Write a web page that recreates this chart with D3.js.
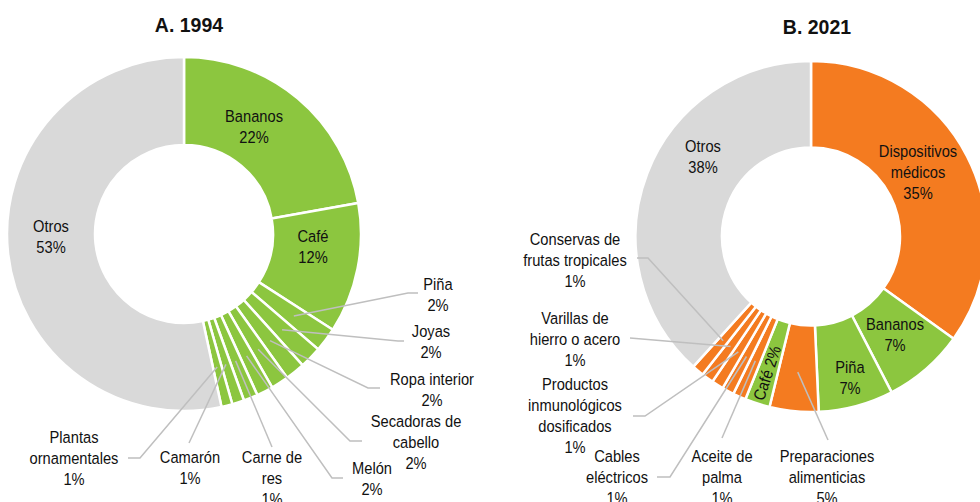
<!DOCTYPE html>
<html>
<head>
<meta charset="utf-8">
<script src="https://cdn.jsdelivr.net/npm/d3@7"></script>
<style>
  html, body { margin: 0; padding: 0; background: #fff; }
  svg { display: block; }
  .lbl { font-family: "Liberation Sans", Arial, sans-serif; font-size: 16.5px; fill: #111; }
  .ttl { font-family: "Liberation Sans", Arial, sans-serif; font-size: 19.5px; font-weight: bold; fill: #111; }
</style>
</head>
<body>
<svg id="chart" width="980" height="502"></svg>
<script>
// ---- Data ----
const categories1994 = ["Bananos", "Café", "Piña", "Joyas", "Ropa interior", "Secadoras de cabello", "Melón", "Carne de res", "Camarón", "Plantas ornamentales", "Otros"];
const values1994 = [22.2, 11.9, 2.2, 2.0, 1.8, 1.6, 1.5, 1.3, 1.1, 1.0, 53.4];
const labels1994 = ["22%", "12%", "2%", "2%", "2%", "2%", "2%", "1%", "1%", "1%", "53%"];
const groups1994 = ["agro", "agro", "agro", "agro", "agro", "agro", "agro", "agro", "agro", "agro", "otros"];

const categories2021 = ["Dispositivos médicos", "Bananos", "Piña", "Preparaciones alimenticias", "Café", "Aceite de palma", "Cables eléctricos", "Productos inmunológicos dosificados", "Varillas de hierro o acero", "Conservas de frutas tropicales", "Otros"];
const values2021 = [34.9, 7.5, 6.9, 4.5, 2.3, 1.2, 1.1, 1.1, 1.1, 1.1, 38.3];
const labels2021 = ["35%", "7%", "7%", "5%", "2%", "1%", "1%", "1%", "1%", "1%", "38%"];
const groups2021 = ["ind", "agro", "agro", "ind", "agro", "ind", "ind", "ind", "ind", "ind", "otros"];

const titles = ["A. 1994", "B. 2021"];

// ---- Styles / layout ----
const colors = { agro: "#8CC63F", ind: "#F47B20", otros: "#D9D9D9" };
const leaderColor = "#BFBFBF";
const LH = 21;
const SX = 0.89; // horizontal condensing of label text

const layout1994 = [
  { lines: ["Bananos"], x: 254, y: 122 },
  { lines: ["Café"], x: 313, y: 242 },
  { lines: ["Piña"], x: 438, y: 290, leader: [[408, 293], [418, 293]] },
  { lines: ["Joyas"], x: 431, y: 337, leader: [[398, 341], [404, 341]] },
  { lines: ["Ropa interior"], x: 432, y: 385, leader: [[368, 388], [380, 388]] },
  { lines: ["Secadoras de", "cabello"], x: 416, y: 427, leader: [[350, 441], [362, 441]] },
  { lines: ["Melón"], x: 372, y: 474, leader: [[332, 478], [343, 478]] },
  { lines: ["Carne de", "res"], x: 272, y: 463, leader: [[272, 447]] },
  { lines: ["Camarón"], x: 190, y: 463, leader: [[189, 443]] },
  { lines: ["Plantas", "ornamentales"], x: 74, y: 443, leader: [[140, 458], [128, 458]] },
  { lines: ["Otros"], x: 51, y: 232 }
];
const layout2021 = [
  { lines: ["Dispositivos", "médicos"], x: 918, y: 157 },
  { lines: ["Bananos"], x: 895, y: 330 },
  { lines: ["Piña"], x: 850, y: 373 },
  { lines: ["Preparaciones", "alimenticias"], x: 827, y: 462, leader: [[828, 440]] },
  { lines: ["Café"], x: 767, y: 373, rotate: -72, inline: true },
  { lines: ["Aceite de", "palma"], x: 722, y: 462, leader: [[722, 438]] },
  { lines: ["Cables", "eléctricos"], x: 617, y: 462, leader: [[670, 477], [657, 477]] },
  { lines: ["Productos", "inmunológicos", "dosificados"], x: 575, y: 390, leader: [[645, 416], [633, 416]] },
  { lines: ["Varillas de", "hierro o acero"], x: 575, y: 324, leader: [[630, 338]] },
  { lines: ["Conservas de", "frutas tropicales"], x: 575, y: 245, leader: [[648, 258], [637, 258]] },
  { lines: ["Otros"], x: 703, y: 152 }
];

const charts = [
  { cats: categories1994, vals: values1994, labs: labels1994, groups: groups1994, layout: layout1994, cx: 184, cy: 234, r0: 89, r1: 177, title: titles[0], tx: 189, ty: 32 },
  { cats: categories2021, vals: values2021, labs: labels2021, groups: groups2021, layout: layout2021, cx: 811, cy: 236.5, r0: 89, r1: 175.5, title: titles[1], tx: 817, ty: 34 }
];

const svg = d3.select("#chart");

charts.forEach(c => {
  const data = c.cats.map((name, i) => ({ name, value: c.vals[i], lab: c.labs[i], group: c.groups[i], layout: c.layout[i] }));
  const pie = d3.pie().value(d => d.value).sort(null).startAngle(0).endAngle(2 * Math.PI);
  const arcs = pie(data);
  const arc = d3.arc().innerRadius(c.r0).outerRadius(c.r1);
  const mid = d3.arc().innerRadius(c.r0 + 10).outerRadius(c.r1 - 2);

  const g = svg.append("g").attr("transform", `translate(${c.cx},${c.cy})`);
  g.selectAll("path.slice").data(arcs).join("path")
    .attr("class", "slice")
    .attr("d", arc)
    .attr("fill", d => colors[d.data.group])
    .attr("stroke", "#fff")
    .attr("stroke-width", 2.5)
    .attr("stroke-linejoin", "miter");

  const line = d3.line();
  arcs.forEach(a => {
    const L = a.data.layout;
    if (!L.leader) return;
    const [mx, my] = mid.centroid(a);
    const pts = [[c.cx + mx, c.cy + my]].concat(L.leader);
    svg.append("path")
      .attr("d", line(pts))
      .attr("fill", "none")
      .attr("stroke", leaderColor)
      .attr("stroke-width", 1.5);
  });

  arcs.forEach(a => {
    const L = a.data.layout;
    if (L.inline) {
      svg.append("text")
        .attr("class", "lbl")
        .attr("text-anchor", "middle")
        .attr("dominant-baseline", "central")
        .attr("transform", `translate(${L.x},${L.y}) rotate(${L.rotate}) scale(${SX},1)`)
        .text(L.lines.join(" ") + " " + a.data.lab);
      return;
    }
    const t = svg.append("text").attr("class", "lbl").attr("text-anchor", "middle")
      .attr("transform", `translate(${L.x},0) scale(${SX},1)`);
    const all = L.lines.concat([a.data.lab]);
    all.forEach((s, i) => {
      t.append("tspan").attr("x", 0).attr("y", L.y + i * LH).text(s);
    });
  });

  svg.append("text").attr("class", "ttl").attr("text-anchor", "middle")
    .attr("x", c.tx).attr("y", c.ty).text(c.title);
});
</script>
</body>
</html>
